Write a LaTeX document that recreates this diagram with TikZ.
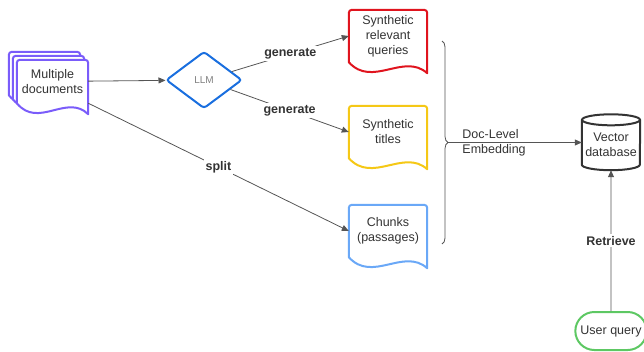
\documentclass[tikz,border=0pt]{standalone}
\usepackage{fontspec}
\setmainfont{Liberation Sans}
\usetikzlibrary{arrows.meta,calc,shapes.geometric,shapes.misc,decorations.pathreplacing}

\definecolor{docpurple}{HTML}{7A5CFA}
\definecolor{llmblue}{HTML}{1A6FDF}
\definecolor{queryred}{HTML}{E0141E}
\definecolor{titleyellow}{HTML}{F5C816}
\definecolor{chunkblue}{HTML}{6AA8F7}
\definecolor{usergreen}{HTML}{5DC863}
\definecolor{inkgray}{HTML}{333333}
\definecolor{linegray}{HTML}{555555}

\pgfdeclarelayer{background}
\pgfsetlayers{background,main}

% page with a wavy bottom edge round a node
\newcommand{\pageoutline}[2]{%
  \draw[pageline,draw=#2] (#1.south west) [rounded corners=3pt] -- (#1.north west)
    -- (#1.north east) [sharp corners] -- ($(#1.south east)+(0,11)$)
    .. controls ($(#1.south west)!0.7!(#1.south east)+(0,-10)$)
    and ($(#1.south west)!0.3!(#1.south east)+(0,26)$) .. (#1.south west) -- cycle;}

\begin{document}
\begin{tikzpicture}[
    x=1pt, y=-1pt,
    font=\fontsize{12.5}{15}\selectfont,
    text=inkgray,
    pagebox/.style={minimum width=78pt, minimum height=52pt, inner sep=0pt, align=center},
    pageline/.style={line width=2pt, fill=white, line join=round},
    conn/.style={draw=linegray, line width=0.8pt, -{Triangle[length=7pt,width=6pt]}},
    lbl/.style={font=\fontsize{12.5}{15}\selectfont\bfseries, fill=white, inner sep=2pt},
  ]
  \useasboundingbox (0,0) rectangle (644,351);

  % stacked source documents
  \node[pagebox, minimum width=71pt, minimum height=43pt] (docsback) at (44.5,73.5) {};
  \node[pagebox, minimum width=71pt, minimum height=43pt] (docsmid) at (48.5,77.5) {};
  \node[pagebox, minimum width=71pt, minimum height=43pt] (docs) at (52.5,81.5) {Multiple\\documents};

  \node[draw=llmblue, line width=2pt, diamond, rounded corners=3pt, minimum width=76pt,
        minimum height=57pt, inner sep=0pt, font=\fontsize{10}{12}\selectfont, text=gray] (llm) at (204,80) {LLM};

  \node[pagebox] (queries) at (388,36) {Synthetic\\relevant\\queries};
  \node[pagebox] (titles) at (388,132) {Synthetic\\titles};
  \node[pagebox] (chunks) at (388,231) {Chunks\\(passages)};

  \begin{pgfonlayer}{background}
    \pageoutline{docsback}{docpurple}
    \pageoutline{docsmid}{docpurple}
    \pageoutline{docs}{docpurple}
    \pageoutline{queries}{queryred}
    \pageoutline{titles}{titleyellow}
    \pageoutline{chunks}{chunkblue}
  \end{pgfonlayer}

  % vector store
  \node[minimum width=58pt, minimum height=50pt, inner sep=0pt, align=center] (db) at (611,145) {Vector\\database};
  \draw[inkgray, line width=2pt]
    (db.north west) -- ($(db.south west)+(0,-5.5)$)
    arc[start angle=180, end angle=360, x radius=29pt, y radius=5.5pt]
    -- (db.north east);
  \draw[inkgray, line width=2pt] (db.north) ellipse[x radius=29pt, y radius=5.5pt];

  \node[draw=usergreen, line width=2pt, rounded rectangle, minimum width=78pt,
        minimum height=38pt] (query) at (611,331) {User query};

  \draw[conn] (docs) -- (llm);
  \draw[conn] (llm) -- node[lbl] (gen1) {generate} (queries.west);
  \draw[conn] (llm) -- node[lbl] (gen2) {generate} (titles.west);
  \draw[conn] (docs.south east) -- node[lbl] (split) {split} (chunks.west);

  \draw[linegray, line width=0.8pt, decorate, decoration={brace, amplitude=6pt}] (442,41) -- (442,244);
  \coordinate (embtip) at (448,142.5);
  \draw[conn] (embtip) -- node[pos=0.08, anchor=west, align=left] (emb) {Doc-Level\\Embedding} (embtip -| db.west);

  \draw[conn] (query) -- node[lbl] (retrieve) {Retrieve} (db.south);
\end{tikzpicture}
\end{document}
